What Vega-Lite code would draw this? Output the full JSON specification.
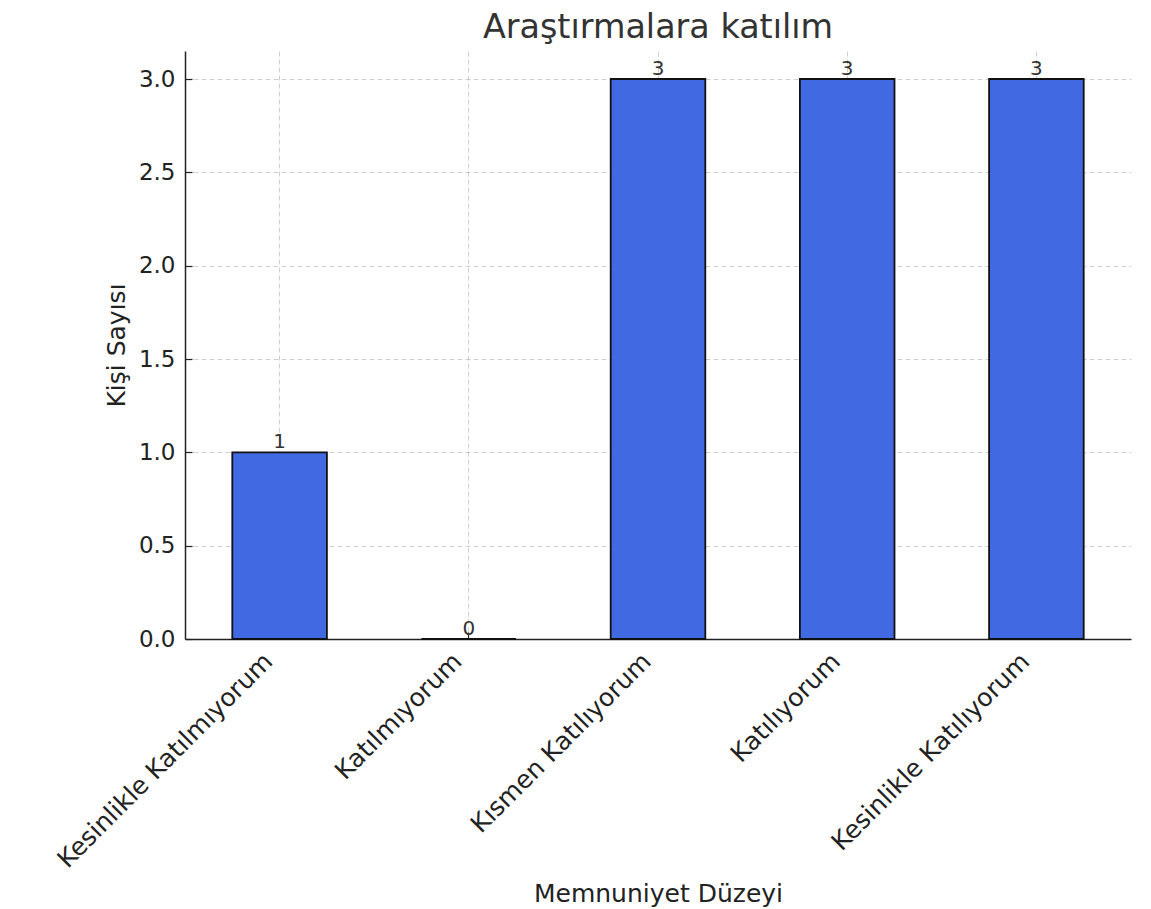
{
  "$schema": "https://vega.github.io/schema/vega-lite/v6.json",
  "width": 946,
  "height": 588,
  "autosize": {"type": "none"},
  "padding": {"left": 185, "top": 51, "right": 20, "bottom": 270},
  "background": "white",
  "title": {
    "text": "Araştırmalara katılım",
    "fontSize": 33.4,
    "font": "DejaVu Sans",
    "fontWeight": "normal",
    "color": "#333333",
    "anchor": "middle",
    "baseline": "alphabetic",
    "frame": "group",
    "offset": -20
  },
  "data": {
    "values": [
      {"level": "Kesinlikle Katılmıyorum", "count": 1},
      {"level": "Katılmıyorum", "count": 0},
      {"level": "Kısmen Katılıyorum", "count": 3},
      {"level": "Katılıyorum", "count": 3},
      {"level": "Kesinlikle Katılıyorum", "count": 3}
    ]
  },
  "encoding": {
    "x": {
      "field": "level",
      "type": "nominal",
      "sort": null,
      "scale": {"paddingInner": 0.5, "paddingOuter": 0.25},
      "axis": {
        "title": "Memnuniyet Düzeyi",
        "labelAngle": -45,
        "labelAlign": "right",
        "labelBaseline": "bottom",
        "labelPadding": 34,
        "labelOffset": -2,
        "labelFontSize": 25,
        "labelLimit": 500,
        "titlePadding": 42
      }
    },
    "y": {
      "field": "count",
      "type": "quantitative",
      "scale": {"domain": [0, 3.15], "nice": false},
      "axis": {
        "title": "Kişi Sayısı",
        "values": [0, 0.5, 1, 1.5, 2, 2.5, 3],
        "format": ".1f",
        "labelPadding": 17,
        "titlePadding": 9
      }
    }
  },
  "layer": [
    {
      "mark": {"type": "bar", "fill": "#4169E1", "stroke": "#111111", "strokeWidth": 1.8}
    },
    {
      "mark": {
        "type": "text",
        "baseline": "alphabetic",
        "dy": -4,
        "fontSize": 20,
        "font": "DejaVu Sans",
        "color": "#333333"
      },
      "encoding": {"text": {"field": "count", "type": "quantitative"}}
    }
  ],
  "config": {
    "view": {"stroke": null},
    "axis": {
      "zindex": 1,
      "domainColor": "#222222",
      "domainWidth": 1.5,
      "tickColor": "#222222",
      "tickWidth": 1.2,
      "tickSize": -7,
      "grid": true,
      "gridColor": "#b0b0b0",
      "gridOpacity": 0.6,
      "gridDash": [5, 3],
      "gridWidth": 1,
      "labelFont": "DejaVu Sans",
      "labelFontSize": 23,
      "labelColor": "#222222",
      "titleFont": "DejaVu Sans",
      "titleFontSize": 25,
      "titleFontWeight": "normal",
      "titleColor": "#222222"
    }
  }
}
